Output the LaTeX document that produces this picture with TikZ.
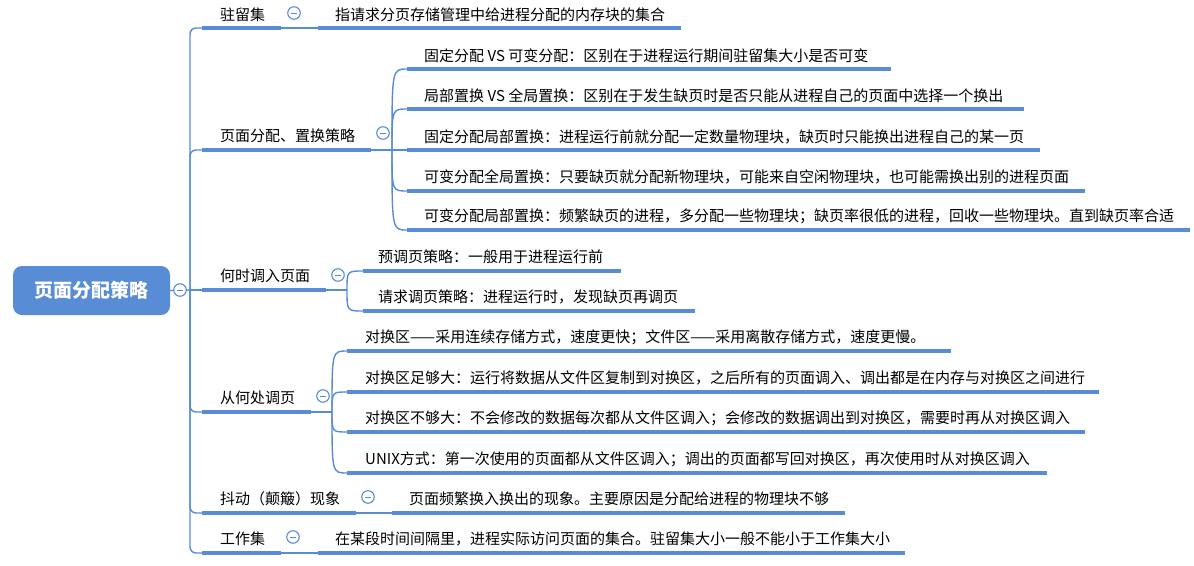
\documentclass[tikz,border=0pt]{standalone}
\usepackage{fontspec}
\newfontfamily\cjk{Noto Sans CJK SC}
\definecolor{mblue}{RGB}{88,140,212}
\begin{document}
\begin{tikzpicture}[x=1pt,y=-1pt,
  topicbar/.style={line width=4pt, draw=mblue},
  link/.style={line width=1.4pt, draw=mblue},
  lbl/.style={anchor=west, inner sep=0pt, font=\cjk\fontsize{15}{18}\selectfont, text=black},
  fold/.style={circle, draw=mblue, line width=1.1pt, fill=white, minimum size=12.5pt, inner sep=0pt,
    path picture={\draw[mblue!80!gray, line width=0.9pt] ([xshift=-2.7pt]path picture bounding box.center) -- ([xshift=2.7pt]path picture bounding box.center);}},
  rootbox/.style={fill=mblue, rounded corners=9pt, minimum width=157pt, minimum height=49pt, inner sep=0pt,
    text=white, font=\cjk\bfseries\fontsize{19}{22}\selectfont}
]
\useasboundingbox[fill=white] (0,0) rectangle (1194,565);

% root
\node[rootbox] (root) at (91.5,290.5) {页面分配策略};
\coordinate (J) at (190,290);
\draw[link] (root.east) -- (J);

% ---------- 驻留集
\coordinate (b1s) at (202,28); \coordinate (b1e) at (281,28);
\coordinate (c1s) at (318,28); \coordinate (c1e) at (681,28);
\draw[link, rounded corners=6pt] (J) |- (b1s);
\draw[topicbar] (b1s) -- (b1e);
\draw[link] (b1e) -- (c1s);
\draw[topicbar] (c1s) -- (c1e);
\node[lbl] (t1) at (220,14.5) {驻留集};
\node[fold] (f1) at (294,13) {};
\node[lbl] (t1a) at (335,14.5) {指请求分页存储管理中给进程分配的内存块的集合};

% ---------- 页面分配、置换策略
\coordinate (b2s) at (202,150); \coordinate (b2e) at (371,150);
\coordinate (F2) at (392,150);
\draw[link, rounded corners=6pt] (J) |- (b2s);
\draw[topicbar] (b2s) -- (b2e);
\draw[link] (b2e) -- (F2);
\node[lbl] (t2) at (220,136) {页面分配、置换策略};
\node[fold] (f2) at (383,133) {};
\foreach \n/\yy/\xe in {1/69/891, 2/109/1024, 3/150/1040, 4/191/1085, 5/230/1190}{
  \coordinate (c2\n s) at (407,\yy);
  \coordinate (c2\n e) at (\xe,\yy);
  \draw[link] (F2) .. controls (392,\yy) .. (c2\n s);
  \draw[topicbar] (c2\n s) -- (c2\n e);
}
\node[lbl] (t21) at (424,55.5) {固定分配 VS 可变分配：区别在于进程运行期间驻留集大小是否可变};
\node[lbl] (t22) at (424,95.5) {局部置换 VS 全局置换：区别在于发生缺页时是否只能从进程自己的页面中选择一个换出};
\node[lbl] (t23) at (424,136.5) {固定分配局部置换：进程运行前就分配一定数量物理块，缺页时只能换出进程自己的某一页};
\node[lbl] (t24) at (424,177) {可变分配全局置换：只要缺页就分配新物理块，可能来自空闲物理块，也可能需换出别的进程页面};
\node[lbl] (t25) at (424,216.5) {可变分配局部置换：频繁缺页的进程，多分配一些物理块；缺页率很低的进程，回收一些物理块。直到缺页率合适};

% ---------- 何时调入页面
\coordinate (b3s) at (202,290); \coordinate (b3e) at (326,290);
\coordinate (F3) at (347,290);
\draw[link] (J) -- (b3s);
\draw[topicbar] (b3s) -- (b3e);
\draw[link] (b3e) -- (F3);
\node[lbl] (t3) at (220,276) {何时调入页面};
\node[fold] (f3) at (338,275) {};
\foreach \n/\yy/\xe in {1/271/621, 2/311/695}{
  \coordinate (c3\n s) at (363,\yy);
  \coordinate (c3\n e) at (\xe,\yy);
  \draw[link] (F3) .. controls (347,\yy) .. (c3\n s);
  \draw[topicbar] (c3\n s) -- (c3\n e);
}
\node[lbl] (t31) at (378,257) {预调页策略：一般用于进程运行前};
\node[lbl] (t32) at (378,297) {请求调页策略：进程运行时，发现缺页再调页};

% ---------- 从何处调页
\coordinate (b4s) at (202,412); \coordinate (b4e) at (311,412);
\coordinate (F4) at (332,412);
\draw[link, rounded corners=6pt] (J) |- (b4s);
\draw[topicbar] (b4s) -- (b4e);
\draw[link] (b4e) -- (F4);
\node[lbl] (t4) at (220,397.5) {从何处调页};
\node[fold] (f4) at (323,396) {};
\foreach \n/\yy/\xe in {1/351/951, 2/392/1099, 3/432/1085, 4/473/1047}{
  \coordinate (c4\n s) at (347,\yy);
  \coordinate (c4\n e) at (\xe,\yy);
  \draw[link] (F4) .. controls (332,\yy) .. (c4\n s);
  \draw[topicbar] (c4\n s) -- (c4\n e);
}
\node[lbl] (t41) at (365,337.5) {对换区——采用连续存储方式，速度更快；文件区——采用离散存储方式，速度更慢。};
\node[lbl] (t42) at (365,378) {对换区足够大：运行将数据从文件区复制到对换区，之后所有的页面调入、调出都是在内存与对换区之间进行};
\node[lbl] (t43) at (365,418) {对换区不够大：不会修改的数据每次都从文件区调入；会修改的数据调出到对换区，需要时再从对换区调入};
\node[lbl] (t44) at (365,459) {UNIX方式：第一次使用的页面都从文件区调入；调出的页面都写回对换区，再次使用时从对换区调入};

% ---------- 抖动（颠簸）现象
\coordinate (b5s) at (202,513); \coordinate (b5e) at (356,513);
\coordinate (c5s) at (392,513); \coordinate (c5e) at (845,513);
\draw[link, rounded corners=6pt] (J) |- (b5s);
\draw[topicbar] (b5s) -- (b5e);
\draw[link] (b5e) -- (c5s);
\draw[topicbar] (c5s) -- (c5e);
\node[lbl] (t5) at (220,498.5) {抖动（颠簸）现象};
\node[fold] (f5) at (368,497) {};
\node[lbl] (t5a) at (409,498.5) {页面频繁换入换出的现象。主要原因是分配给进程的物理块不够};

% ---------- 工作集
\coordinate (b6s) at (202,553); \coordinate (b6e) at (281,553);
\coordinate (c6s) at (318,553); \coordinate (c6e) at (905,553);
\draw[link, rounded corners=6pt] (J) |- (b6s);
\draw[topicbar] (b6s) -- (b6e);
\draw[link] (b6e) -- (c6s);
\draw[topicbar] (c6s) -- (c6e);
\node[lbl] (t6) at (220,538.5) {工作集};
\node[fold] (f6) at (293,537) {};
\node[lbl] (t6a) at (335,538.5) {在某段时间间隔里，进程实际访问页面的集合。驻留集大小一般不能小于工作集大小};

\node[fold] (rf) at (180,290) {};
\end{tikzpicture}
\end{document}
